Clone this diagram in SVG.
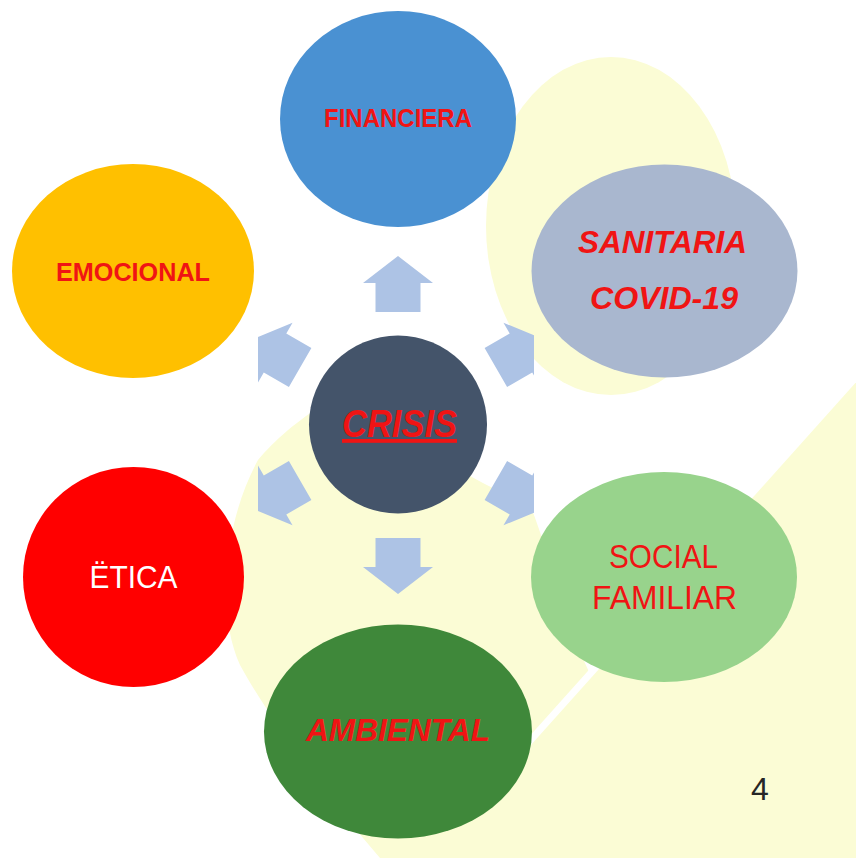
<svg xmlns="http://www.w3.org/2000/svg" xmlns:xlink="http://www.w3.org/1999/xlink" width="856" height="858" viewBox="0 0 856 858">
  <style>
    .lbl { font-family: "Liberation Sans", Arial, sans-serif; fill: #f01414; text-anchor: middle; }
    .b { font-weight: bold; }
    .bi { font-weight: bold; font-style: italic; }
    .arrow { fill: #adc3e5; }
    .bg { fill: #fbfcd5; }
  </style>
  <defs>
    <path id="arr" d="M0,-28 L35,-1 L22.5,-1 L22.5,28 L-22.5,28 L-22.5,-1 L-35,-1 Z"/>
    <clipPath id="arrClip">
      <rect x="258" y="200" width="276" height="450"/>
    </clipPath>
  </defs>

  <rect width="856" height="858" fill="#ffffff"/>

  <g id="background">
    <ellipse class="bg" cx="611" cy="226" rx="125" ry="169"/>
    <path class="bg" d="M856,377 L856,858 L380,858 C330,800 270,720 240,665 C215,610 225,520 258,460 C275,440 295,422 330,400 L380,380 L470,476 C495,490 515,498 530,505 C545,540 565,620 590,674 Z"/>
    <line x1="856" y1="377" x2="520" y2="752" stroke="#ffffff" stroke-width="7"/>
  </g>

  <g id="connectors" clip-path="url(#arrClip)">
    <use xlink:href="#arr" class="arrow" transform="translate(398,284)"/>
    <use xlink:href="#arr" class="arrow" transform="translate(520.1,353.5) rotate(60)"/>
    <use xlink:href="#arr" class="arrow" transform="translate(520.1,494.5) rotate(120)"/>
    <use xlink:href="#arr" class="arrow" transform="translate(398,566) rotate(180)"/>
    <use xlink:href="#arr" class="arrow" transform="translate(275.9,494.5) rotate(240)"/>
    <use xlink:href="#arr" class="arrow" transform="translate(275.9,353.5) rotate(300)"/>
  </g>

  <g id="node-financiera">
    <ellipse cx="398" cy="119" rx="118" ry="108" fill="#4a91d2"/>
    <text class="lbl b" x="398" y="127" font-size="26" textLength="148" lengthAdjust="spacingAndGlyphs">FINANCIERA</text>
  </g>

  <g id="node-sanitaria">
    <ellipse cx="664.5" cy="271" rx="133" ry="106.5" fill="#a9b7cf"/>
    <text class="lbl bi" x="662.5" y="253" font-size="31" textLength="169" lengthAdjust="spacingAndGlyphs">SANITARIA</text>
    <text class="lbl bi" x="664" y="309" font-size="32" textLength="148" lengthAdjust="spacingAndGlyphs">COVID-19</text>
  </g>

  <g id="node-emocional">
    <ellipse cx="133" cy="271" rx="121" ry="107" fill="#ffc000"/>
    <text class="lbl b" x="133" y="281" font-size="26" textLength="154" lengthAdjust="spacingAndGlyphs">EMOCIONAL</text>
  </g>

  <g id="node-crisis">
    <circle cx="398" cy="424.5" r="89" fill="#44546a"/>
    <text class="lbl bi" x="399.5" y="437" font-size="38" textLength="115" lengthAdjust="spacingAndGlyphs" text-decoration="underline" fill="#ff0a0a">CRISIS</text>
  </g>

  <g id="node-etica">
    <ellipse cx="133.5" cy="577" rx="110.5" ry="110" fill="#ff0000"/>
    <text class="lbl" x="133.5" y="588" font-size="31" textLength="88" lengthAdjust="spacingAndGlyphs" style="fill:#ffffff">ËTICA</text>
  </g>

  <g id="node-social">
    <ellipse cx="664" cy="577" rx="133" ry="105" fill="#98d38c"/>
    <text class="lbl" x="663.5" y="568" font-size="33" textLength="109" lengthAdjust="spacingAndGlyphs">SOCIAL</text>
    <text class="lbl" x="664.5" y="609" font-size="33" textLength="145" lengthAdjust="spacingAndGlyphs">FAMILIAR</text>
  </g>

  <g id="node-ambiental">
    <ellipse cx="398" cy="731.5" rx="134" ry="107" fill="#3f883a"/>
    <text class="lbl bi" x="398" y="741" font-size="32" textLength="184" lengthAdjust="spacingAndGlyphs">AMBIENTAL</text>
  </g>

  <text x="760" y="800" font-family="Liberation Sans, Arial, sans-serif" font-size="32" fill="#262626" text-anchor="middle">4</text>
</svg>
